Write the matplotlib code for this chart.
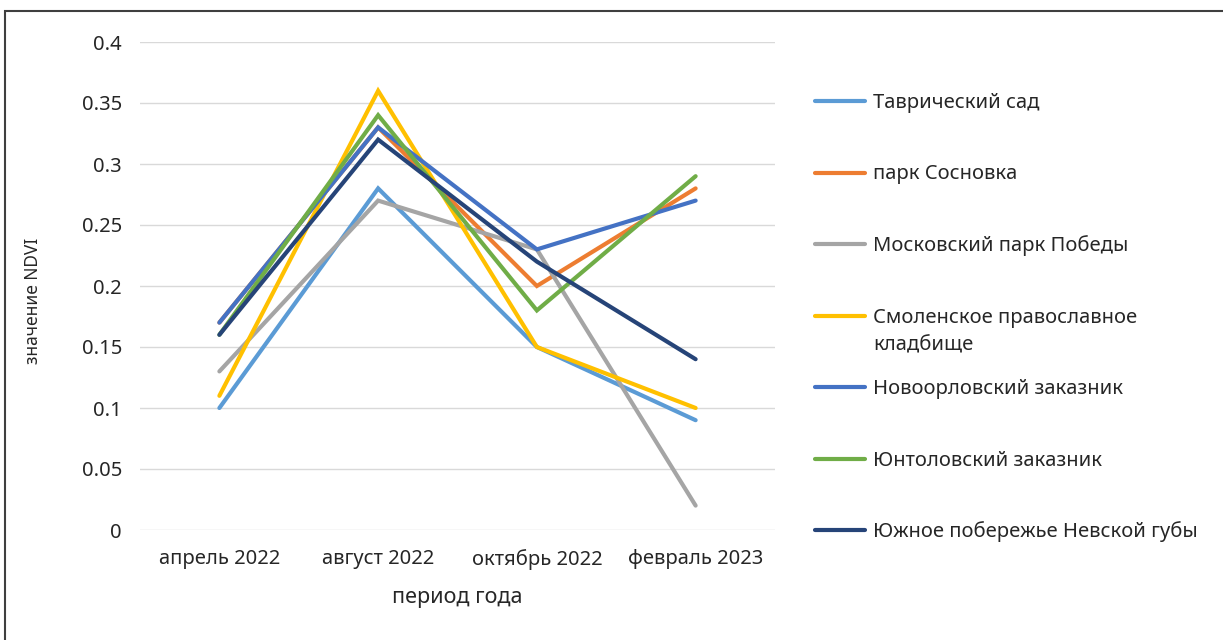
import matplotlib
matplotlib.use("Agg")
import matplotlib.pyplot as plt
from matplotlib.lines import Line2D
from matplotlib.patches import Rectangle

plt.rcParams["font.family"] = ["Noto Sans", "DejaVu Sans"]

periods = ["апрель 2022", "август 2022", "октябрь 2022", "февраль 2023"]

tavrichesky = [0.10, 0.28, 0.15, 0.09]
sosnovka = [0.17, 0.33, 0.20, 0.28]
moskovsky = [0.13, 0.27, 0.23, 0.02]
smolenskoe = [0.11, 0.36, 0.15, 0.10]
novoorlovsky = [0.17, 0.33, 0.23, 0.27]
yuntolovsky = [0.16, 0.34, 0.18, 0.29]
yuzhnoe = [0.16, 0.32, 0.22, 0.14]

series = [
    ("Таврический сад", tavrichesky, "#5B9BD5"),
    ("парк Сосновка", sosnovka, "#ED7D31"),
    ("Московский парк Победы", moskovsky, "#A5A5A5"),
    ("Смоленское православное\nкладбище", smolenskoe, "#FFC000"),
    ("Новоорловский заказник", novoorlovsky, "#4472C4"),
    ("Юнтоловский заказник", yuntolovsky, "#70AD47"),
    ("Южное побережье Невской губы", yuzhnoe, "#264478"),
]

W, H = 1223, 640
TXT = "#262626"
fig = plt.figure(figsize=(W / 100, H / 100), dpi=100)
ax = fig.add_axes([140 / W, 1 - 530 / H, 635 / W, 488 / H])

x = list(range(len(periods)))
for label, vals, color in series:
    ax.plot(x, vals, color=color, lw=3, solid_capstyle="round",
            solid_joinstyle="miter")

ax.set_xlim(-0.5, 3.5)
ax.set_ylim(0, 0.4)
ax.set_yticks([0, 0.05, 0.1, 0.15, 0.2, 0.25, 0.3, 0.35, 0.4])
ax.set_yticklabels(["0", "0.05", "0.1", "0.15", "0.2", "0.25", "0.3", "0.35", "0.4"])
ax.set_xticks(x)
ax.set_xticklabels(periods)
ax.tick_params(axis="both", length=0, labelsize=14.5, colors=TXT)
ax.tick_params(axis="y", pad=13)
ax.tick_params(axis="x", pad=14)
ax.grid(axis="y", color="#D9D9D9", lw=1)
ax.set_axisbelow(True)
for s in ax.spines.values():
    s.set_visible(False)
ax.set_xlabel("период года", fontsize=15.5, color=TXT, labelpad=12)
ax.set_ylabel("значение NDVI", fontsize=12.5, color=TXT)
ax.yaxis.set_label_coords(-0.155, 0.47)

# legend drawn by hand to keep Excel-like spacing
y0 = 101
step = 71.5
for i, (label, vals, color) in enumerate(series):
    ypx = y0 + i * step
    yy = 1 - ypx / H
    fig.add_artist(Line2D([815 / W, 865 / W], [yy, yy], color=color, lw=3,
                          solid_capstyle="round"))
    for j, part in enumerate(label.split("\n")):
        fig.text(873 / W, 1 - (ypx + 7 + j * 28) / H, part, fontsize=14.5,
                 color=TXT, va="baseline", ha="left")

# chart frame
fig.add_artist(Rectangle((5 / W, -0.05), 1.1, 1 - 11 / H + 0.05,
                         transform=fig.transFigure, fill=False,
                         edgecolor="#3F3F3F", lw=1.5))

fig.savefig("out.png", dpi=100)
